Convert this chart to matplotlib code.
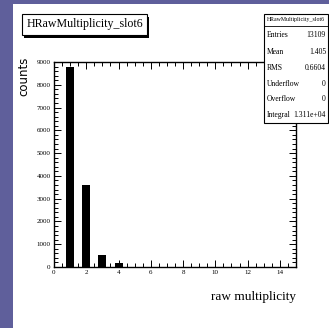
import matplotlib
matplotlib.use("Agg")
import matplotlib.pyplot as plt
from matplotlib.patches import Rectangle
from matplotlib.ticker import MultipleLocator
import numpy as np

# histogram content: raw multiplicity per event, slot 6
hist_name = "HRawMultiplicity_slot6"
multiplicity = [1, 2, 3, 4]
counts = [8760, 3600, 530, 165]

# stats box entries
stat_names = ["Entries", "Mean", "RMS", "Underflow", "Overflow", "Integral"]
stat_values = ["13109", "1.405", "0.6604", "0", "0", "1.311e+04"]

x_ticks = [0, 2, 4, 6, 8, 10, 12, 14]
y_ticks = [0, 1000, 2000, 3000, 4000, 5000, 6000, 7000, 8000, 9000]

W, H = 329, 328
fig = plt.figure(figsize=(W / 100, H / 100), dpi=100)
fig.patch.set_facecolor("#5f5f9b")

# white canvas on the slide
fig.patches.append(Rectangle((13 / W, 0), 1 - 13 / W, 1 - 4 / H,
                             transform=fig.transFigure, facecolor="white",
                             edgecolor="none", zorder=-1))

serif = "Liberation Serif"

ax = fig.add_axes([54 / W, 1 - 267 / H, 242 / W, 205 / H])
ax.set_zorder(1)
ax.bar(multiplicity, counts, width=0.5, color="black")
ax.set_xlim(0, 15)
ax.set_ylim(0, 9000)
ax.set_xticks(x_ticks)
ax.set_yticks(y_ticks)
ax.xaxis.set_minor_locator(MultipleLocator(0.5))
ax.yaxis.set_minor_locator(MultipleLocator(200))
ax.tick_params(which="both", direction="in", top=True, right=True,
               width=0.7, labelsize=5, pad=2.5)
ax.tick_params(which="major", length=5)
ax.tick_params(which="minor", length=3)
for lab in ax.get_xticklabels() + ax.get_yticklabels():
    lab.set_family(serif)
for s in ax.spines.values():
    s.set_linewidth(1.0)

# axis titles
fig.text(24 / W, 1 - 76 / H, "counts", rotation=90, ha="center", va="center",
         fontsize=8.5, family=["Liberation Sans Narrow", "DejaVu Sans"])
fig.text(296 / W, 1 - 297 / H, "raw multiplicity", ha="right", va="center",
         fontsize=9.5, family=serif)

# title box with shadow
fig.patches.append(Rectangle((24 / W, 1 - 38 / H), 125 / W, 21 / H,
                             transform=fig.transFigure, facecolor="black",
                             edgecolor="none", zorder=2))
fig.patches.append(Rectangle((22 / W, 1 - 35 / H), 125 / W, 21 / H,
                             transform=fig.transFigure, facecolor="white",
                             edgecolor="black", lw=0.8, zorder=3))
fig.text(84.5 / W, 1 - 24.5 / H, hist_name, ha="center", va="center",
         fontsize=8.6, family=serif, zorder=4)

# stats box, drawn over the top right corner of the frame
bx0, bx1, by0, by1 = 264, 328, 14, 123
fig.patches.append(Rectangle((bx0 / W, 1 - by1 / H), (bx1 - bx0) / W,
                             (by1 - by0) / H, transform=fig.transFigure,
                             facecolor="white", edgecolor="black", lw=0.8,
                             zorder=3))
fig.lines.append(plt.Line2D([bx0 / W, bx1 / W], [1 - 26 / H, 1 - 26 / H],
                            transform=fig.transFigure, color="black",
                            lw=0.6, zorder=4))
fig.text((bx0 + bx1) / 2 / W, 1 - 20 / H, hist_name, ha="center",
         va="center", fontsize=4.2, family=serif, zorder=5)
row_y = [35, 51.5, 67.5, 83.5, 99, 115]
for name, val, yy in zip(stat_names, stat_values, row_y):
    fig.text((bx0 + 3) / W, 1 - yy / H, name, ha="left", va="center",
             fontsize=5.5, family=serif, zorder=5)
    fig.text((bx1 - 2) / W, 1 - yy / H, val, ha="right", va="center",
             fontsize=5.5, family=serif, zorder=5)

fig.savefig("out.png", dpi=100, facecolor=fig.get_facecolor())
